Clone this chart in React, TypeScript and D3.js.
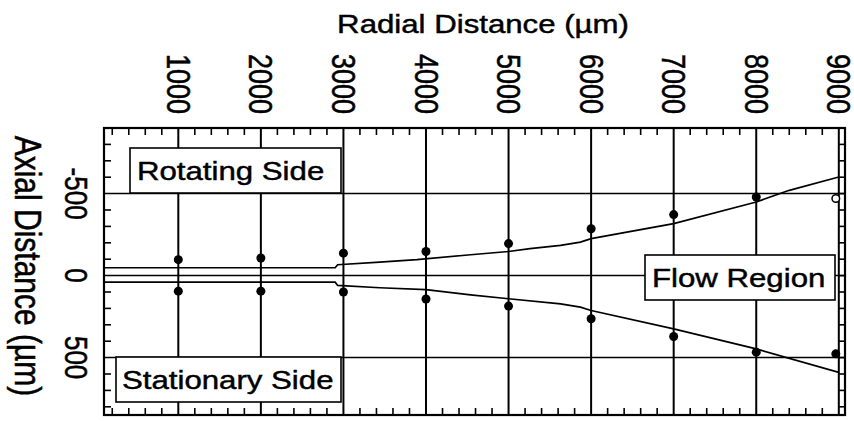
import * as d3 from 'd3'

// radial positions of the measured points (µm)
const radial = [1000, 2000, 3000, 4000, 5000, 6000, 7000, 8000, 9000]
// axial position of the measured edges (µm), rotating side is negative
const rotatingPts = [-97, -107, -137, -147, -195, -286, -372, -479, -470]
const stationaryPts = [95, 95, 100, 143, 186, 263, 371, 467, 477]
const hollow = [false, false, false, false, false, false, false, false, true]

// boundary curves of the flow region
const upperCurveR = [100, 2900, 2930, 3440, 3890, 4540, 5000, 5260, 5630, 5870, 6000, 7000, 8000, 8400, 9000]
const upperCurveZ = [-48, -48, -66, -82, -97, -127, -147, -164, -184, -204, -225, -317, -449, -520, -601]
const lowerCurveR = [100, 2900, 2930, 3440, 4000, 4540, 5000, 5630, 5870, 6000, 7000, 8000, 9000]
const lowerCurveZ = [40, 40, 60, 74, 86, 117, 141, 172, 192, 213, 325, 447, 590]

const xTicks = [1000, 2000, 3000, 4000, 5000, 6000, 7000, 8000, 9000]
const xTickLabels = ['1000', '2000', '3000', '4000', '5000', '6000', '7000', '8000', '9000']
const yTicks = [-500, 0, 500]
const yTickLabels = ['-500', '0', '500']

const W = 854
const H = 421
const FONT = '"Liberation Sans", Arial, Helvetica, sans-serif'
const SX = 1.2 // the scan is a bit wider than tall

export default function App() {
  const x = d3.scaleLinear().domain([100, 9075]).range([104, 845])
  const y = d3.scaleLinear().domain([-900, 850]).range([128, 415])
  const [x0, x1] = x.range()
  const [y0, y1] = y.range()

  const minorX = d3.range(200, 9000, 200).filter((v) => v % 1000 !== 0)
  const minorY = d3.range(-800, 900, 100).filter((v) => v % 500 !== 0)
  const rightY = d3.range(-800, 900, 100)

  const line = d3.line<[number, number]>()
    .x((d) => x(d[0]))
    .y((d) => y(d[1]))
  const upper = line(upperCurveR.map((r, i) => [r, upperCurveZ[i]] as [number, number])) || ''
  const lower = line(lowerCurveR.map((r, i) => [r, lowerCurveZ[i]] as [number, number])) || ''

  // scanned type looks heavier, a thin outline thickens it a little
  const ink = { fill: '#000', stroke: '#000', strokeWidth: 0.45, fontFamily: FONT }

  const box = (bx: number, by: number, bw: number, bh: number, label: string, tx: number, ty: number) => (
    <g>
      <rect x={bx} y={by} width={bw} height={bh} fill="#fff" stroke="#000" strokeWidth={1.6} />
      <text transform={`translate(${tx},${ty}) scale(${SX},1)`} fontSize={26} {...ink}>{label}</text>
    </g>
  )

  return (
    <svg width={W} height={H} style={{ position: 'absolute', left: 0, top: 0, background: '#fff' }}>
      {/* grid */}
      {xTicks.map((t) => (
        <line key={'gx' + t} x1={x(t)} x2={x(t)} y1={y0} y2={y1} stroke="#000" strokeWidth={2} />
      ))}
      {yTicks.map((t) => (
        <line key={'gy' + t} x1={x0} x2={x1} y1={y(t)} y2={y(t)} stroke="#000" strokeWidth={1.5} />
      ))}

      {/* boundary curves */}
      <path d={upper} fill="none" stroke="#000" strokeWidth={1.7} />
      <path d={lower} fill="none" stroke="#000" strokeWidth={1.7} />

      {/* points */}
      {radial.map((r, i) => (
        <circle key={'u' + r} cx={x(r) - (r === 9000 ? 3 : 0)} cy={y(rotatingPts[i])} r={hollow[i] ? 3.8 : 4.5}
          fill={hollow[i] ? '#fff' : '#000'} stroke="#000" strokeWidth={hollow[i] ? 1.5 : 0} />
      ))}
      {radial.map((r, i) => (
        <circle key={'l' + r} cx={x(r) - (r === 9000 ? 3 : 0)} cy={y(stationaryPts[i])} r={4.5} fill="#000" />
      ))}

      {/* labels in boxes */}
      {box(130, 148, 211, 45, 'Rotating Side', 137, 180)}
      {box(116, 357, 225, 45, 'Stationary Side', 122, 389)}
      {box(645, 255, 190, 45, 'Flow Region', 652, 287)}

      {/* frame */}
      <rect x={x0} y={y0} width={x1 - x0} height={y1 - y0} fill="none" stroke="#000" strokeWidth={2.2} />

      {/* minor ticks */}
      {minorX.map((t) => (
        <g key={'mx' + t}>
          <line x1={x(t)} x2={x(t)} y1={y0} y2={y0 + 7} stroke="#000" strokeWidth={1.6} />
          <line x1={x(t)} x2={x(t)} y1={y1} y2={y1 - 7} stroke="#000" strokeWidth={1.6} />
        </g>
      ))}
      {minorY.map((t) => (
        <line key={'my' + t} x1={x0} x2={x0 + 7} y1={y(t)} y2={y(t)} stroke="#000" strokeWidth={1.6} />
      ))}
      {rightY.map((t) => (
        <line key={'ry' + t} x1={x(9000)} x2={x1} y1={y(t)} y2={y(t)} stroke="#000" strokeWidth={1.6} />
      ))}

      {/* tick labels */}
      {xTicks.map((t, i) => (
        <text key={'xl' + t} transform={`translate(${x(t)},114) scale(${SX},1) rotate(90)`}
          textAnchor="end" dominantBaseline="central" fontSize={27} {...ink}>{xTickLabels[i]}</text>
      ))}
      {yTicks.map((t, i) => (
        <text key={'yl' + t} transform={`translate(76,${y(t)}) scale(${SX},1) rotate(90)`}
          textAnchor="middle" dominantBaseline="central" fontSize={26} {...ink}>{yTickLabels[i]}</text>
      ))}

      {/* axis titles */}
      <text transform={`translate(483,33) scale(${SX},1)`} textAnchor="middle" fontSize={26} {...ink}>
        Radial Distance (µm)
      </text>
      <text transform={`translate(27,266) scale(${SX},1) rotate(90)`} textAnchor="middle" dominantBaseline="central"
        fontSize={30} {...ink}>
        Axial Distance (µm)
      </text>
    </svg>
  )
}
